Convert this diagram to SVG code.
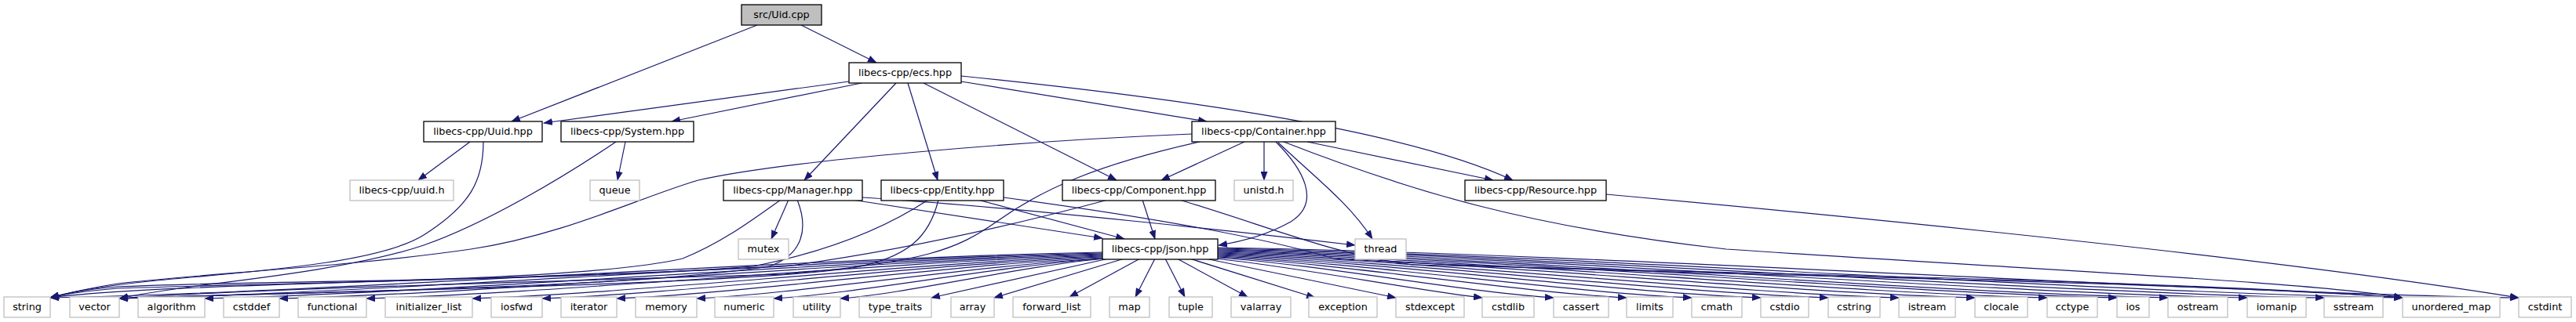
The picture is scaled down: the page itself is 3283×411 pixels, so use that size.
<svg xmlns="http://www.w3.org/2000/svg" width="3283" height="411" viewBox="0 0 3283 411">
<style>
.n rect{fill:#fff;stroke:#000;stroke-width:1.3}
.x rect{fill:#fff;stroke:#bfbfbf;stroke-width:1.3}
.r rect{fill:#bfbfbf;stroke:#000;stroke-width:1.3}
text{font-family:"DejaVu Sans",sans-serif;font-size:12.8px;text-anchor:middle;fill:#000}
.e path{fill:none;stroke:#191970;stroke-width:1.2;marker-end:url(#a)}
</style>
<defs>
<marker id="a" markerWidth="12" markerHeight="9" refX="11" refY="4.5" orient="auto" markerUnits="userSpaceOnUse"><path d="M0,0 L12,4.5 L0,9 z" fill="#191970"/></marker>
</defs>
<rect width="3283" height="411" fill="#fff"/>
<g id="edges" class="e">
<path d="M965,32 L652,155"/>
<path d="M1021,32 L1117,80"/>
<path d="M1082,104 L693,157"/>
<path d="M1098,106 L856,155"/>
<path d="M1142,106 L1025,230"/>
<path d="M1157,106 L1195,230"/>
<path d="M1177,106 L1423,230"/>
<path d="M1225,104 L1538,155"/>
<path d="M1225,97 C1500,125 1790,165 1928,230"/>
<path d="M599,181 L533,230"/>
<path d="M616,181 C616,230 600,262 540,300 C480,338 300,348 200,358 C120,366 84,374 64,380"/>
<path d="M797,181 L787,230"/>
<path d="M785,181 C720,225 620,285 540,313 C460,340 330,355 250,365 C200,372 170,377 152,381"/>
<path d="M1519,171 C1300,180 1000,205 890,230 C820,250 720,300 600,318 C450,340 250,350 150,362 C100,370 80,376 64,380"/>
<path d="M1529,181 C1400,210 1330,240 1270,283 C1220,318 1180,335 1000,350 C600,362 300,370 152,381"/>
<path d="M1586,181 L1480,230"/>
<path d="M1611,181 L1611,230"/>
<path d="M1626,181 C1660,215 1685,258 1645,283 C1615,300 1585,308 1553,313"/>
<path d="M1629,182 C1680,230 1720,260 1749,305"/>
<path d="M1666,181 L1903,230"/>
<path d="M1636,181 C1800,245 1950,290 2200,318 C2600,345 2950,360 3062,380"/>
<path d="M1005,255 L983,305"/>
<path d="M995,255 C960,280 920,310 870,330 C750,358 400,360 150,368 C100,372 80,376 64,380"/>
<path d="M1016,255 C1030,290 1025,325 980,340 C800,368 400,372 152,381"/>
<path d="M1086,255 L1405,304"/>
<path d="M1099,252 C1300,265 1600,298 1727,313"/>
<path d="M1183,255 C1130,290 1060,320 960,340 C700,360 300,358 150,366 C100,370 80,376 64,380"/>
<path d="M1196,255 C1185,300 1160,330 1080,343 C900,365 400,372 152,381"/>
<path d="M1246,255 L1433,305"/>
<path d="M1279,252 C1450,275 1600,300 1700,330 C2000,350 2700,355 3062,380"/>
<path d="M1412,255 C1300,285 1150,320 1000,340 C600,360 200,362 64,380"/>
<path d="M1456,255 L1472,305"/>
<path d="M1503,255 C1620,290 1700,325 1800,338 C2300,350 2800,360 3062,380"/>
<path d="M2047,248 C2400,280 2900,330 3210,380"/>
<path d="M1405,322 C1003,330 399,374 64,380"/>
<path d="M1405,323 C1029,331 465,375 152,381"/>
<path d="M1405,324 C1062,332 547,375 261,381"/>
<path d="M1405,325 C1090,333 618,375 356,381"/>
<path d="M1405,326 C1124,334 702,375 467,381"/>
<path d="M1405,327 C1164,335 803,375 602,381"/>
<path d="M1405,328 C1191,336 870,375 691,381"/>
<path d="M1405,329 C1219,337 941,375 786,381"/>
<path d="M1406,330 C1251,338 1017,375 888,381"/>
<path d="M1408,330 C1281,338 1092,375 986,381"/>
<path d="M1410,330 C1308,338 1156,375 1071,381"/>
<path d="M1413,330 L1187,380"/>
<path d="M1433,330 L1267,380"/>
<path d="M1453,330 L1363,379"/>
<path d="M1472,330 L1447,379"/>
<path d="M1485,330 L1510,379"/>
<path d="M1500,330 L1590,379"/>
<path d="M1516,330 L1676,380"/>
<path d="M1536,330 L1779,380"/>
<path d="M1548,330 C1650,340 1800,370 1889,380"/>
<path d="M1552,329 C1680,337 1873,374 1980,380"/>
<path d="M1552,328 C1708,336 1943,374 2073,380"/>
<path d="M1552,327 C1733,335 2005,374 2156,380"/>
<path d="M1552,326 C1760,334 2071,374 2244,380"/>
<path d="M1552,325 C1785,333 2136,374 2330,380"/>
<path d="M1552,324 C1812,332 2203,374 2420,380"/>
<path d="M1552,323 C1842,331 2276,374 2517,380"/>
<path d="M1552,322 C1869,330 2345,374 2609,380"/>
<path d="M1552,321 C1896,329 2412,374 2698,380"/>
<path d="M1552,320 C1915,328 2460,374 2763,380"/>
<path d="M1552,319 C1946,327 2536,374 2864,380"/>
<path d="M1552,318 C1975,326 2610,374 2962,380"/>
<path d="M1552,317 C2005,325 2685,374 3062,380"/>
<path d="M1552,316 C2049,324 2796,374 3210,380"/>
</g>
<g id="n_root" class="r"><rect x="945" y="6" width="102" height="26"/><text x="996" y="22.8">src/Uid.cpp</text></g>
<g id="n_ecs" class="n"><rect x="1082" y="80" width="143" height="26"/><text x="1153.5" y="96.8">libecs-cpp/ecs.hpp</text></g>
<g id="n_uuidhpp" class="n"><rect x="540" y="155" width="151" height="26"/><text x="615.5" y="171.8">libecs-cpp/Uuid.hpp</text></g>
<g id="n_system" class="n"><rect x="715" y="155" width="169" height="26"/><text x="799.5" y="171.8">libecs-cpp/System.hpp</text></g>
<g id="n_container" class="n"><rect x="1519" y="155" width="183" height="26"/><text x="1610.5" y="171.8">libecs-cpp/Container.hpp</text></g>
<g id="n_uuidh" class="x"><rect x="446" y="230" width="132" height="26"/><text x="512" y="246.8">libecs-cpp/uuid.h</text></g>
<g id="n_queue" class="x"><rect x="752" y="230" width="63" height="26"/><text x="783.5" y="246.8">queue</text></g>
<g id="n_manager" class="n"><rect x="922" y="230" width="177" height="26"/><text x="1010.5" y="246.8">libecs-cpp/Manager.hpp</text></g>
<g id="n_entity" class="n"><rect x="1123" y="230" width="156" height="26"/><text x="1201" y="246.8">libecs-cpp/Entity.hpp</text></g>
<g id="n_component" class="n"><rect x="1354" y="230" width="195" height="26"/><text x="1451.5" y="246.8">libecs-cpp/Component.hpp</text></g>
<g id="n_unistd" class="x"><rect x="1573" y="230" width="75" height="26"/><text x="1610.5" y="246.8">unistd.h</text></g>
<g id="n_resource" class="n"><rect x="1867" y="230" width="180" height="26"/><text x="1957" y="246.8">libecs-cpp/Resource.hpp</text></g>
<g id="n_mutex" class="x"><rect x="941" y="305" width="64" height="26"/><text x="973" y="321.8">mutex</text></g>
<g id="n_json" class="n"><rect x="1405" y="305" width="147" height="26"/><text x="1478.5" y="321.8">libecs-cpp/json.hpp</text></g>
<g id="n_thread" class="x"><rect x="1727" y="305" width="65" height="26"/><text x="1759.5" y="321.8">thread</text></g>
<g id="n_string" class="x"><rect x="5" y="379" width="59" height="26"/><text x="34.5" y="395.8">string</text></g>
<g id="n_vector" class="x"><rect x="89" y="379" width="63" height="26"/><text x="120.5" y="395.8">vector</text></g>
<g id="n_algorithm" class="x"><rect x="176" y="379" width="85" height="26"/><text x="218.5" y="395.8">algorithm</text></g>
<g id="n_cstddef" class="x"><rect x="285" y="379" width="71" height="26"/><text x="320.5" y="395.8">cstddef</text></g>
<g id="n_functional" class="x"><rect x="380" y="379" width="87" height="26"/><text x="423.5" y="395.8">functional</text></g>
<g id="n_initializer_list" class="x"><rect x="491" y="379" width="111" height="26"/><text x="546.5" y="395.8">initializer_list</text></g>
<g id="n_iosfwd" class="x"><rect x="626" y="379" width="65" height="26"/><text x="658.5" y="395.8">iosfwd</text></g>
<g id="n_iterator" class="x"><rect x="715" y="379" width="71" height="26"/><text x="750.5" y="395.8">iterator</text></g>
<g id="n_memory" class="x"><rect x="810" y="379" width="78" height="26"/><text x="849" y="395.8">memory</text></g>
<g id="n_numeric" class="x"><rect x="911" y="379" width="75" height="26"/><text x="948.5" y="395.8">numeric</text></g>
<g id="n_utility" class="x"><rect x="1011" y="379" width="60" height="26"/><text x="1041" y="395.8">utility</text></g>
<g id="n_type_traits" class="x"><rect x="1095" y="379" width="92" height="26"/><text x="1141" y="395.8">type_traits</text></g>
<g id="n_array" class="x"><rect x="1212" y="379" width="55" height="26"/><text x="1239.5" y="395.8">array</text></g>
<g id="n_forward_list" class="x"><rect x="1291" y="379" width="99" height="26"/><text x="1340.5" y="395.8">forward_list</text></g>
<g id="n_map" class="x"><rect x="1414" y="379" width="51" height="26"/><text x="1439.5" y="395.8">map</text></g>
<g id="n_tuple" class="x"><rect x="1490" y="379" width="55" height="26"/><text x="1517.5" y="395.8">tuple</text></g>
<g id="n_valarray" class="x"><rect x="1569" y="379" width="76" height="26"/><text x="1607" y="395.8">valarray</text></g>
<g id="n_exception" class="x"><rect x="1668" y="379" width="87" height="26"/><text x="1711.5" y="395.8">exception</text></g>
<g id="n_stdexcept" class="x"><rect x="1779" y="379" width="87" height="26"/><text x="1822.5" y="395.8">stdexcept</text></g>
<g id="n_cstdlib" class="x"><rect x="1889" y="379" width="66" height="26"/><text x="1922" y="395.8">cstdlib</text></g>
<g id="n_cassert" class="x"><rect x="1980" y="379" width="70" height="26"/><text x="2015" y="395.8">cassert</text></g>
<g id="n_limits" class="x"><rect x="2073" y="379" width="59" height="26"/><text x="2102.5" y="395.8">limits</text></g>
<g id="n_cmath" class="x"><rect x="2156" y="379" width="64" height="26"/><text x="2188" y="395.8">cmath</text></g>
<g id="n_cstdio" class="x"><rect x="2244" y="379" width="61" height="26"/><text x="2274.5" y="395.8">cstdio</text></g>
<g id="n_cstring" class="x"><rect x="2330" y="379" width="66" height="26"/><text x="2363" y="395.8">cstring</text></g>
<g id="n_istream" class="x"><rect x="2420" y="379" width="72" height="26"/><text x="2456" y="395.8">istream</text></g>
<g id="n_clocale" class="x"><rect x="2517" y="379" width="67" height="26"/><text x="2550.5" y="395.8">clocale</text></g>
<g id="n_cctype" class="x"><rect x="2609" y="379" width="64" height="26"/><text x="2641" y="395.8">cctype</text></g>
<g id="n_ios" class="x"><rect x="2698" y="379" width="41" height="26"/><text x="2718.5" y="395.8">ios</text></g>
<g id="n_ostream" class="x"><rect x="2763" y="379" width="76" height="26"/><text x="2801" y="395.8">ostream</text></g>
<g id="n_iomanip" class="x"><rect x="2864" y="379" width="75" height="26"/><text x="2901.5" y="395.8">iomanip</text></g>
<g id="n_sstream" class="x"><rect x="2962" y="379" width="75" height="26"/><text x="2999.5" y="395.8">sstream</text></g>
<g id="n_unordered_map" class="x"><rect x="3062" y="379" width="124" height="26"/><text x="3124" y="395.8">unordered_map</text></g>
<g id="n_cstdint" class="x"><rect x="3210" y="379" width="67" height="26"/><text x="3243.5" y="395.8">cstdint</text></g>
</svg>
